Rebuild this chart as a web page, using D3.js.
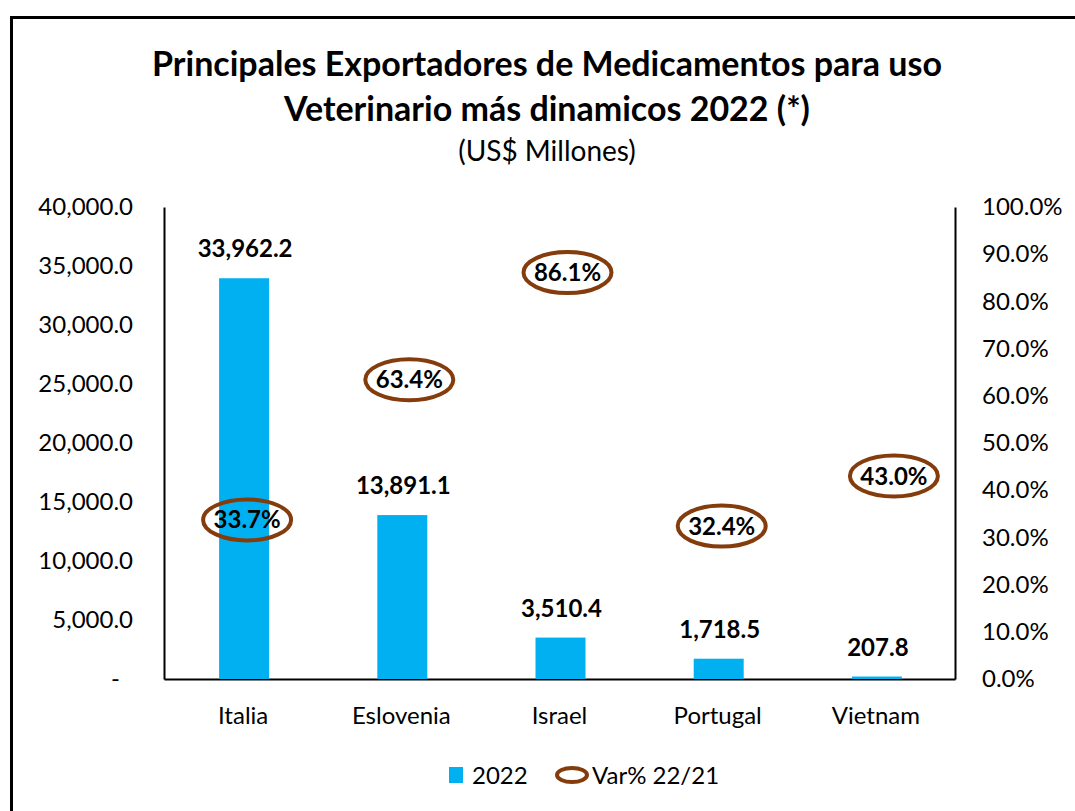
<!DOCTYPE html>
<html>
<head>
<meta charset="utf-8">
<script src="https://cdn.jsdelivr.net/npm/d3@7"></script>
<style>
  body { margin: 0; background: #fff; }
  svg { display: block; font-family: Lato, "Open Sans", sans-serif; }
</style>
</head>
<body>
<div id="chart"></div>
<script>
// -- data --
const categories = ["Italia", "Eslovenia", "Israel", "Portugal", "Vietnam"];
const exports2022 = [33962.2, 13891.1, 3510.4, 1718.5, 207.8];
const varPct = [33.7, 63.4, 86.1, 32.4, 43.0];
const leftTicks = [0, 5000, 10000, 15000, 20000, 25000, 30000, 35000, 40000];
const rightTicks = [0, 10, 20, 30, 40, 50, 60, 70, 80, 90, 100];
const titleLines = ["Principales Exportadores de Medicamentos para uso", "Veterinario más dinamicos 2022 (*)"];
const subtitle = "(US$ Millones)";
const legendNames = ["2022", "Var% 22/21"];

// labels were nudged by hand in the original
const labelNudge = [4, 8, 8, 4, 18];

var width = 1075,
    height = 811,
    margin = {top: 207, right: 120, bottom: 132, left: 164},
    blue = "#00B0F0",
    brown = "#843C0C";

var svg = d3.select("#chart").append("svg")
    .attr("width", width)
    .attr("height", height);

// outer frame (right and bottom edges are off the picture)
svg.append("path")
    .attr("d", "M11.5,811 L11.5,17.5 L1075,17.5")
    .attr("fill", "none")
    .attr("stroke", "#000")
    .attr("stroke-width", 3);

// title
svg.selectAll(".title")
    .data(titleLines)
  .enter().append("text")
    .attr("class", "title")
    .attr("x", 547)
    .attr("y", function(d, i) { return 76 + i * 45; })
    .attr("text-anchor", "middle")
    .attr("font-weight", "bold")
    .attr("font-size", 34)
    .text(function(d) { return d; });

svg.append("text")
    .attr("x", 547)
    .attr("y", 161)
    .attr("text-anchor", "middle")
    .attr("font-size", 28)
    .text(subtitle);

var x = d3.scaleBand()
    .domain(categories)
    .range([margin.left, width - margin.right]);

var y = d3.scaleLinear()
    .domain([0, 40000])
    .range([height - margin.bottom, margin.top]);

var y2 = d3.scaleLinear()
    .domain([0, 100])
    .range([height - margin.bottom, margin.top]);

var fmt = d3.format(",.1f");
var barW = x.bandwidth() * 0.316;

// axes
var gl = svg.append("g")
    .attr("transform", "translate(" + margin.left + ",0)")
    .call(d3.axisLeft(y).tickValues(leftTicks).tickSize(0).tickPadding(31)
      .tickFormat(function(d) { return d === 0 ? "-" : fmt(d); }));

var gr = svg.append("g")
    .attr("transform", "translate(" + x.range()[1] + ",0)")
    .call(d3.axisRight(y2).tickValues(rightTicks).tickSize(0).tickPadding(27)
      .tickFormat(function(d) { return d.toFixed(1) + "%"; }));

var gb = svg.append("g")
    .attr("transform", "translate(0," + y(0) + ")")
    .call(d3.axisBottom(x).tickSize(0).tickPadding(28));

[gl, gr, gb].forEach(function(g) {
  g.select(".domain").attr("stroke", "#000").attr("stroke-width", 2);
  g.selectAll("text").attr("font-size", 24).attr("fill", "#000")
      .style("font-family", "Lato, 'Open Sans', sans-serif");
});
gl.selectAll("text").filter(function(d) { return d === 0; }).attr("dx", -13);

// bars
svg.selectAll(".bar")
    .data(exports2022)
  .enter().append("rect")
    .attr("class", "bar")
    .attr("x", function(d, i) { return x(categories[i]) + x.bandwidth() / 2 - barW / 2 + 1; })
    .attr("y", function(d) { return y(d); })
    .attr("width", barW)
    .attr("height", function(d) { return y(0) - y(d); })
    .attr("fill", blue);

svg.selectAll(".barlabel")
    .data(exports2022)
  .enter().append("text")
    .attr("class", "barlabel")
    .attr("x", function(d, i) { return x(categories[i]) + x.bandwidth() / 2 + 2; })
    .attr("y", function(d) { return y(d) - 21; })
    .attr("text-anchor", "middle")
    .attr("font-weight", "bold")
    .attr("font-size", 24)
    .text(function(d) { return fmt(d); });

// var% labels in ellipses
var pts = svg.selectAll(".pct")
    .data(varPct)
  .enter().append("g")
    .attr("class", "pct")
    .attr("transform", function(d, i) {
      return "translate(" + (x(categories[i]) + x.bandwidth() / 2 + labelNudge[i]) + "," + y2(d) + ")";
    });

pts.append("ellipse")
    .attr("rx", 44)
    .attr("ry", 20.5)
    .attr("fill", "none")
    .attr("stroke", brown)
    .attr("stroke-width", 4);

pts.append("text")
    .attr("y", 8.5)
    .attr("text-anchor", "middle")
    .attr("font-weight", "bold")
    .attr("font-size", 24)
    .text(function(d) { return d.toFixed(1) + "%"; });

// legend
var lg = svg.append("g").attr("transform", "translate(0,775)");
lg.append("rect")
    .attr("x", 449).attr("y", -8)
    .attr("width", 14).attr("height", 16)
    .attr("fill", blue);
lg.append("text")
    .attr("x", 472).attr("y", 8.5)
    .attr("font-size", 24)
    .text(legendNames[0]);
lg.append("ellipse")
    .attr("cx", 572).attr("cy", 0)
    .attr("rx", 15).attr("ry", 7)
    .attr("fill", "none")
    .attr("stroke", brown)
    .attr("stroke-width", 4);
lg.append("text")
    .attr("x", 592).attr("y", 8.5)
    .attr("font-size", 24)
    .text(legendNames[1]);
</script>
</body>
</html>
